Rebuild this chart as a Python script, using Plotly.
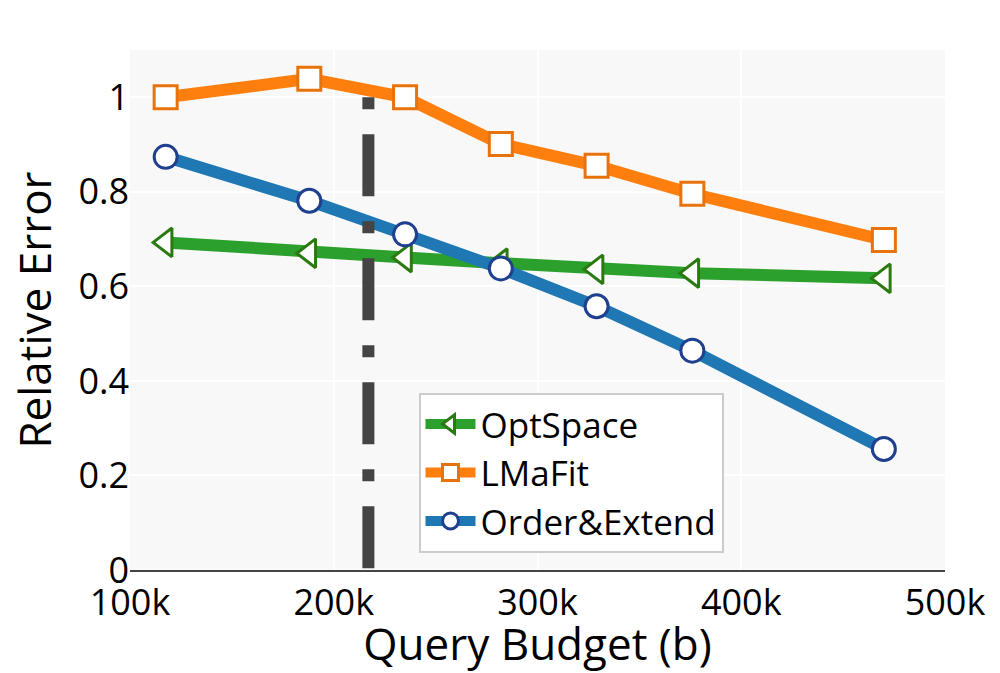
import plotly.graph_objects as go

budget = [117.5e3, 188e3, 235e3, 282e3, 329e3, 376e3, 470e3]
optspace = [0.693, 0.670, 0.661, 0.649, 0.636, 0.628, 0.617]
lmafit = [1.0, 1.039, 1.0, 0.901, 0.855, 0.796, 0.698]
order_extend = [0.874, 0.781, 0.710, 0.638, 0.558, 0.464, 0.256]
vline_x = [217e3, 217e3]
vline_y = [1.0, 0.0]

fig = go.Figure()
fig.add_trace(go.Scatter(
    x=budget, y=optspace, name="OptSpace", mode="lines+markers",
    line=dict(color="#2ca02c", width=12),
    marker=dict(symbol="triangle-left", size=25, color="white",
                line=dict(color="#2a7a10", width=3)),
))
fig.add_trace(go.Scatter(
    x=budget, y=lmafit, name="LMaFit", mode="lines+markers",
    line=dict(color="#ff7f0e", width=12),
    marker=dict(symbol="square", size=23, color="white",
                line=dict(color="#e8730c", width=3)),
))
fig.add_trace(go.Scatter(
    x=budget, y=order_extend, name="Order&Extend", mode="lines+markers",
    line=dict(color="#1f77b4", width=12),
    marker=dict(symbol="circle", size=23, color="white",
                line=dict(color="#1f3f8f", width=3)),
))
fig.add_trace(go.Scatter(
    x=vline_x, y=vline_y, mode="lines", showlegend=False, hoverinfo="skip",
    line=dict(color="#444444", width=12, dash="12px,25px,62px,25px"),
))

fig.update_layout(
    width=1000, height=673,
    margin=dict(l=130, r=55, t=50, b=99),
    paper_bgcolor="white", plot_bgcolor="#f8f8f8",
    font=dict(family="Open Sans", size=36, color="black"),
    xaxis=dict(
        title=dict(text="Query Budget (b)", font=dict(size=44), standoff=4),
        range=[100e3, 500e3], tickvals=[100e3, 200e3, 300e3, 400e3, 500e3],
        ticktext=["100k", "200k", "300k", "400k", "500k"],
        showgrid=True, gridcolor="white", gridwidth=2,
        showline=True, linecolor="#444444", linewidth=2,
        zeroline=False, ticks="",
    ),
    yaxis=dict(
        title=dict(text="Relative Error", font=dict(size=44), standoff=12),
        range=[0, 1.1], tickvals=[0, 0.2, 0.4, 0.6, 0.8, 1.0],
        ticktext=["0", "0.2", "0.4", "0.6", "0.8", "1"],
        showgrid=True, gridcolor="white", gridwidth=2,
        showline=False, zeroline=False, ticks="",
    ),
    legend=dict(
        x=0.354, y=0.341, xanchor="left", yanchor="top",
        bgcolor="white", bordercolor="#cccccc", borderwidth=2,
        font=dict(size=35), itemwidth=50,
    ),
)

fig.write_html("out.html")
